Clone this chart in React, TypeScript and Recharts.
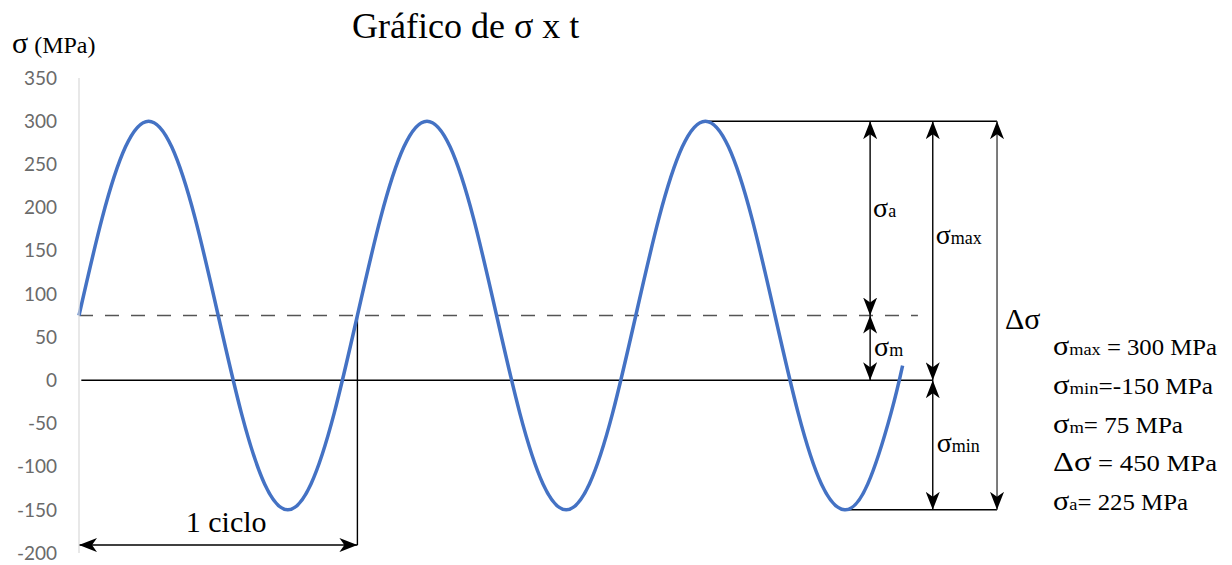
import React from 'react';
import { LineChart, Line, XAxis, YAxis, ReferenceLine, ReferenceDot } from 'recharts';

// time in twelfths of a cycle, stress in MPa
const timeSteps = [
  0, 1, 2, 3, 4, 5, 6, 7, 8, 9, 10, 11,
  12, 13, 14, 15, 16, 17, 18, 19, 20, 21, 22, 23,
  24, 25, 26, 27, 28, 29, 30, 31, 32, 33, 34, 35, 35.5,
];
const stress = [
  75, 188, 270, 300, 270, 188, 75, -38, -120, -150, -120, -38,
  75, 188, 270, 300, 270, 188, 75, -38, -120, -150, -120, -38,
  75, 188, 270, 300, 270, 188, 75, -38, -120, -150, -120, -38, 17,
];
const yTicks = [-200, -150, -100, -50, 0, 50, 100, 150, 200, 250, 300, 350];

const sigmaMax = 300;
const sigmaMin = -150;
const sigmaMean = 75;

// summary list on the right: [symbol, subscript, rest, drawn width]
const summary: [string, string, string, number][] = [
  ['σ', 'max', ' = 300 MPa', 164],
  ['σ', 'min', '=-150 MPa', 160],
  ['σ', 'm', '= 75 MPa', 130],
  ['Δσ', '', ' = 450 MPa', 164],
  ['σ', 'a', '= 225 MPa', 135],
];

const data = timeSteps.map((t, i) => ({ t, s: stress[i] }));

const serif = '"Liberation Serif", "Times New Roman", serif';

const arrowLine = (color: string) => (p: any) => (
  <line
    x1={p.x1}
    y1={p.y1}
    x2={p.x2}
    y2={p.y2}
    stroke={color}
    strokeWidth={1.4}
    markerStart="url(#arrowHead)"
    markerEnd="url(#arrowHead)"
  />
);

const plainLine = (color: string, width: number, dash?: string) => (p: any) => (
  <line x1={p.x1} y1={p.y1} x2={p.x2} y2={p.y2} stroke={color} strokeWidth={width} strokeDasharray={dash} />
);

const sigmaLabel = (sub: string, dx: number, big = 28, small = 18) => (p: any) => (
  <text x={p.cx + dx} y={p.cy} fontFamily={serif} fill="#000">
    <tspan fontSize={big}>σ</tspan>
    <tspan fontSize={small}>{sub}</tspan>
  </text>
);

const plainLabel = (txt: string, dx: number, size: number, anchor = 'start') => (p: any) => (
  <text x={p.cx + dx} y={p.cy} fontFamily={serif} fontSize={size} fill="#000" textAnchor={anchor}>
    {txt}
  </text>
);

export default function App() {
  const noDot = { r: 0, fill: 'none', stroke: 'none' };
  return (
    <div style={{ position: 'absolute', left: 0, top: 0, width: 1232, height: 565, background: '#fff' }}>
      <svg width={0} height={0} style={{ position: 'absolute' }}>
        <defs>
          <marker
            id="arrowHead"
            markerUnits="userSpaceOnUse"
            markerWidth={20}
            markerHeight={14}
            refX={18}
            refY={7}
            orient="auto-start-reverse"
          >
            <path d="M0,0 L18,7 L0,14 L5,7 Z" fill="#000" />
          </marker>
        </defs>
      </svg>

      <LineChart width={1232} height={565} data={data} margin={{ top: 78, right: 225, bottom: 12, left: 0 }}>
        <XAxis dataKey="t" type="number" domain={[0, 40]} hide />
        <YAxis
          type="number"
          domain={[-200, 350]}
          ticks={yTicks}
          width={79}
          tickLine={false}
          tickMargin={16}
          axisLine={{ stroke: '#d9d9d9', strokeWidth: 1.2 }}
          tick={{ fill: '#6a6a6a', fontSize: 19, fontFamily: 'Lato, "Open Sans", sans-serif' }}
        />

        {/* mean stress (dashed) and zero line */}
        <ReferenceLine segment={[{ x: 0, y: sigmaMean }, { x: 36.16, y: sigmaMean }]} shape={plainLine('#555', 1.3, '14 12')} />
        <ReferenceLine segment={[{ x: 0.1, y: 0 }, { x: 36.8, y: 0 }]} shape={plainLine('#000', 1.4)} />

        {/* one cycle */}
        <ReferenceLine segment={[{ x: 12, y: sigmaMean }, { x: 12, y: -190.8 }]} shape={plainLine('#000', 1.4)} />
        <ReferenceLine segment={[{ x: 0, y: -190.8 }, { x: 12, y: -190.8 }]} shape={arrowLine('#000')} />

        {/* max / min extension lines */}
        <ReferenceLine segment={[{ x: 26.85, y: sigmaMax }, { x: 39.57, y: sigmaMax }]} shape={plainLine('#000', 1.4)} />
        <ReferenceLine segment={[{ x: 32.93, y: sigmaMin }, { x: 39.57, y: sigmaMin }]} shape={plainLine('#000', 1.4)} />

        {/* dimension arrows */}
        <ReferenceLine segment={[{ x: 34.1, y: sigmaMax }, { x: 34.1, y: sigmaMean }]} shape={arrowLine('#000')} />
        <ReferenceLine segment={[{ x: 34.1, y: sigmaMean }, { x: 34.1, y: 0 }]} shape={arrowLine('#000')} />
        <ReferenceLine segment={[{ x: 36.8, y: sigmaMax }, { x: 36.8, y: 0 }]} shape={arrowLine('#000')} />
        <ReferenceLine segment={[{ x: 36.8, y: 0 }, { x: 36.8, y: sigmaMin }]} shape={arrowLine('#000')} />
        <ReferenceLine segment={[{ x: 39.57, y: sigmaMax }, { x: 39.57, y: sigmaMin }]} shape={arrowLine('#444')} />

        <ReferenceDot x={34.1} y={189} {...noDot} shape={sigmaLabel('a', 3)} />
        <ReferenceDot x={34.1} y={28} {...noDot} shape={sigmaLabel('m', 4)} />
        <ReferenceDot x={36.8} y={158} {...noDot} shape={sigmaLabel('max', 3)} />
        <ReferenceDot x={36.8} y={-83} {...noDot} shape={sigmaLabel('min', 4)} />
        <ReferenceDot x={39.57} y={59} {...noDot} shape={plainLabel('Δσ', 8, 30)} />
        <ReferenceDot x={6} y={-176} {...noDot} shape={plainLabel('1 ciclo', 8, 30, 'middle')} />

        <Line
          type="natural"
          dataKey="s"
          stroke="#4472c4"
          strokeWidth={3.5}
          dot={false}
          activeDot={false}
          isAnimationActive={false}
        />
      </LineChart>

      <svg
        width={1232}
        height={565}
        style={{ position: 'absolute', left: 0, top: 0, pointerEvents: 'none' }}
        fontFamily={serif}
      >
        <text x={352} y={38} fontSize={36} fill="#000">
          Gráfico de σ x t
        </text>
        <text x={12} y={53} fill="#000">
          <tspan fontSize={30}>σ</tspan>
          <tspan fontSize={24}> (MPa)</tspan>
        </text>
        {summary.map(([sym, sub, rest, w], i) => (
          <text key={i} x={1053} y={355 + i * 38.8} fill="#000" textLength={w} lengthAdjust="spacingAndGlyphs">
            <tspan fontSize={28}>{sym}</tspan>
            {sub && <tspan fontSize={17}>{sub}</tspan>}
            <tspan fontSize={23}>{rest}</tspan>
          </text>
        ))}
      </svg>
    </div>
  );
}
